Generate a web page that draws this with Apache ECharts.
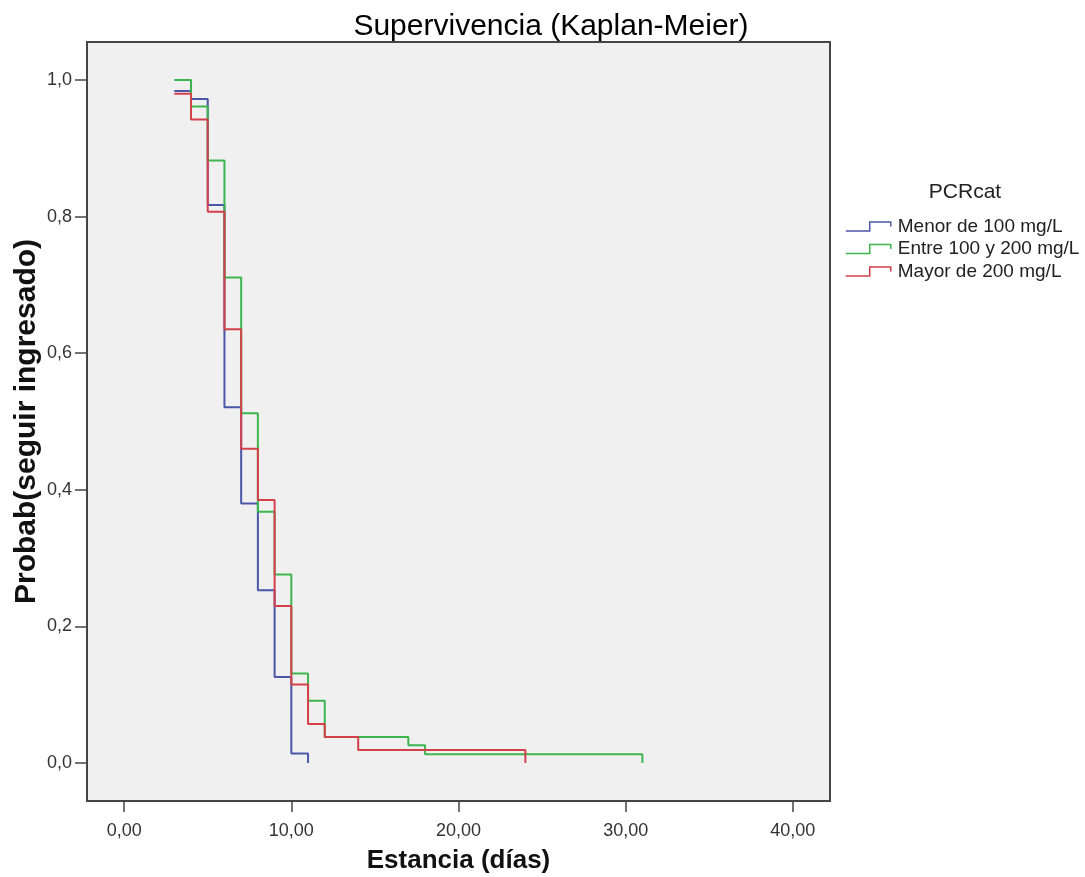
<!DOCTYPE html>
<html>
<head>
<meta charset="utf-8">
<script src="https://cdn.jsdelivr.net/npm/echarts@6/dist/echarts.min.js"></script>
<style>
  html, body { margin: 0; padding: 0; background: #fff; }
  #main { width: 1085px; height: 877px; }
</style>
</head>
<body>
<div id="main"></div>
<script>
  // Kaplan-Meier steps (time in days, survival prob.)
  var menorTimes = [3, 4, 5, 6, 7, 8, 9, 10, 11];
  var menorSurv  = [0.984, 0.972, 0.817, 0.521, 0.380, 0.253, 0.126, 0.014, 0.0];

  var entreTimes = [3, 4, 5, 6, 7, 8, 9, 10, 11, 12, 17, 18, 31];
  var entreSurv  = [1.0, 0.961, 0.882, 0.711, 0.512, 0.368, 0.276, 0.131, 0.091, 0.038, 0.026, 0.013, 0.0];

  var mayorTimes = [3, 4, 5, 6, 7, 8, 9, 10, 11, 12, 14, 24];
  var mayorSurv  = [0.980, 0.942, 0.807, 0.635, 0.460, 0.385, 0.230, 0.115, 0.057, 0.038, 0.019, 0.0];

  var seriesNames = ['Menor de 100 mg/L', 'Entre 100 y 200 mg/L', 'Mayor de 200 mg/L'];
  var seriesColors = ['#4a56a8', '#3cb54e', '#d4404a'];

  var xTicks = [0, 10, 20, 30, 40];
  var yTicks = [0, 0.2, 0.4, 0.6, 0.8, 1.0];

  function pairs(t, s) {
    return t.map(function (v, i) { return [v, s[i]]; });
  }

  var font = "'Liberation Sans', Arial, sans-serif";
  var myChart = echarts.init(document.getElementById('main'));

  var option = {
    backgroundColor: '#ffffff',
    animation: false,
    title: [
      {
        text: 'Supervivencia (Kaplan-Meier)',
        left: 546,
        top: 7,
        textAlign: 'center',
        textStyle: { fontFamily: font, fontSize: 30, fontWeight: 'normal', color: '#000' }
      },
      {
        text: 'PCRcat',
        left: 960,
        top: 177,
        textAlign: 'center',
        textStyle: { fontFamily: font, fontSize: 21, fontWeight: 'normal', color: '#222' }
      }
    ],
    legend: {
      orient: 'vertical',
      left: 840,
      top: 212,
      itemWidth: 45,
      itemHeight: 9,
      itemGap: 3.5,
      symbolKeepAspect: false,
      selectedMode: false,
      icon: 'path://M0,10 L16,10 L16,0 L30,0 L30,5',
      textStyle: { fontFamily: font, fontSize: 19, color: '#222', padding: [0, 0, 0, 2] },
      data: seriesNames.map(function (n, i) {
        return {
          name: n,
          itemStyle: { color: 'transparent', borderColor: seriesColors[i], borderWidth: 1.5 }
        };
      })
    },
    grid: {
      left: 87,
      right: 255,
      top: 42,
      bottom: 76,
      outerBoundsMode: 'none',
      containLabel: false,
      show: true,
      backgroundColor: '#f0f0f0',
      borderColor: '#454545',
      borderWidth: 2
    },
    xAxis: {
      type: 'value',
      min: -2.222,
      max: 42.222,
      name: 'Estancia (días)',
      nameLocation: 'middle',
      nameGap: 47,
      nameMoveOverlap: false,
      nameTextStyle: { fontFamily: font, fontSize: 26, fontWeight: 'bold', color: '#111' },
      axisLine: { show: true, onZero: false, lineStyle: { color: '#454545', width: 2 } },
      axisTick: { show: true, customValues: xTicks, length: 11, lineStyle: { color: '#454545', width: 1.5 } },
      axisLabel: {
        customValues: xTicks,
        margin: 21,
        fontFamily: font,
        fontSize: 18,
        color: '#333',
        formatter: function (v) { return v.toFixed(2).replace('.', ','); }
      },
      splitLine: { show: false }
    },
    yAxis: {
      type: 'value',
      min: -0.0556,
      max: 1.0556,
      name: 'Probab(seguir ingresado)',
      nameLocation: 'middle',
      nameGap: 45,
      nameMoveOverlap: false,
      nameTextStyle: { fontFamily: font, fontSize: 30, fontWeight: 'bold', color: '#111' },
      axisLine: { show: true, onZero: false, lineStyle: { color: '#454545', width: 2 } },
      axisTick: { show: true, customValues: yTicks, length: 12, lineStyle: { color: '#454545', width: 1.5 } },
      axisLabel: {
        customValues: yTicks,
        margin: 15,
        fontFamily: font,
        fontSize: 18,
        color: '#333',
        formatter: function (v) { return v.toFixed(1).replace('.', ','); }
      },
      splitLine: { show: false }
    },
    series: [
      {
        name: seriesNames[0],
        type: 'line',
        step: 'end',
        symbol: 'none',
        data: pairs(menorTimes, menorSurv),
        lineStyle: { color: seriesColors[0], width: 2 },
        itemStyle: { color: seriesColors[0] }
      },
      {
        name: seriesNames[1],
        type: 'line',
        step: 'end',
        symbol: 'none',
        data: pairs(entreTimes, entreSurv),
        lineStyle: { color: seriesColors[1], width: 2 },
        itemStyle: { color: seriesColors[1] }
      },
      {
        name: seriesNames[2],
        type: 'line',
        step: 'end',
        symbol: 'none',
        data: pairs(mayorTimes, mayorSurv),
        lineStyle: { color: seriesColors[2], width: 2 },
        itemStyle: { color: seriesColors[2] }
      }
    ]
  };

  myChart.setOption(option);
</script>
</body>
</html>
